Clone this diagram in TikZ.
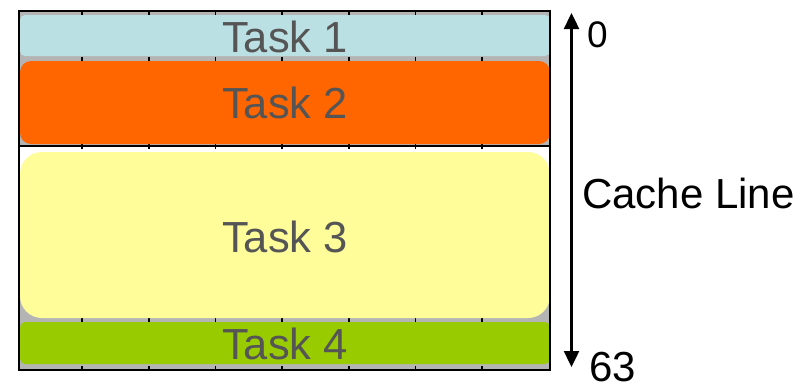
\documentclass[tikz,border=0pt]{standalone}
\usepackage{fontspec}
\setmainfont{Liberation Sans}
\usetikzlibrary{arrows.meta}
\definecolor{gridgrey}{HTML}{B4B4B4}
\definecolor{taskone}{HTML}{BAE0E3}
\definecolor{tasktwo}{HTML}{FF6600}
\definecolor{taskthree}{HTML}{FFFD99}
\definecolor{taskfour}{HTML}{99CC00}
\definecolor{tasktext}{HTML}{555555}
\tikzset{
  taskbox/.style={inner sep=0pt, text=tasktext, font=\fontsize{43.5}{43.5}\selectfont},
  lbl/.style={inner sep=0pt, text=black, font=\fontsize{42}{42}\selectfont},
  tick/.style={black, line width=1.6pt},
}
\begin{document}
\begin{tikzpicture}[x=1pt,y=-1pt]
\useasboundingbox (0,0) rectangle (802,384);
\fill[white] (0,0) rectangle (802,384);
% grey cache rows
\fill[gridgrey] (19,11) rectangle (550,146);
\fill[gridgrey] (19,270) rectangle (550,370);
% ticks
\foreach \x in {82,148.7,215.4,282.1,348.8,415.5,482.2}{
  \draw[tick] (\x,11) -- (\x,15);
  \draw[tick] (\x,56.5) -- (\x,61.5);
  \draw[tick] (\x,143) -- (\x,149);
  \draw[tick] (\x,317.5) -- (\x,322.5);
  \draw[tick] (\x,366) -- (\x,370);
}
% tasks
\fill[taskone, rounded corners=5pt] (20,15) rectangle (550,56);
\node[taskbox] (t1) at (285,37) {Task 1};
\fill[tasktwo, rounded corners=11pt] (20,61) rectangle (550,144);
\node[taskbox] (t2) at (285,103) {Task 2};
\fill[taskthree, rounded corners=22pt] (20,152) rectangle (550,318);
\node[taskbox] (t3) at (285,237) {Task 3};
\fill[taskfour, rounded corners=5pt] (20,322) rectangle (550,364);
\node[taskbox] (t4) at (285,344) {Task 4};
% frame
\draw[black, line width=1.5pt] (19,11) rectangle (550,370);
\draw[black, line width=1.5pt] (19,146) -- (550,146);
% cache line arrow
\coordinate (atop) at (571.5,13);
\coordinate (abot) at (571.5,367);
\coordinate (amid) at (571.5,190);
\draw[line width=2.4pt, -{Triangle[length=16pt,width=15pt]}] (amid) -- (atop);
\draw[line width=2.4pt, -{Triangle[length=16pt,width=15pt]}] (amid) -- (abot);
\node[lbl, anchor=west, font=\fontsize{37}{37}\selectfont] (zero) at (587,35) {0};
\node[lbl, anchor=west] (cl) at (582,193) {Cache Line};
\node[lbl, anchor=west] (sixtythree) at (589,367) {63};
\end{tikzpicture}
\end{document}
